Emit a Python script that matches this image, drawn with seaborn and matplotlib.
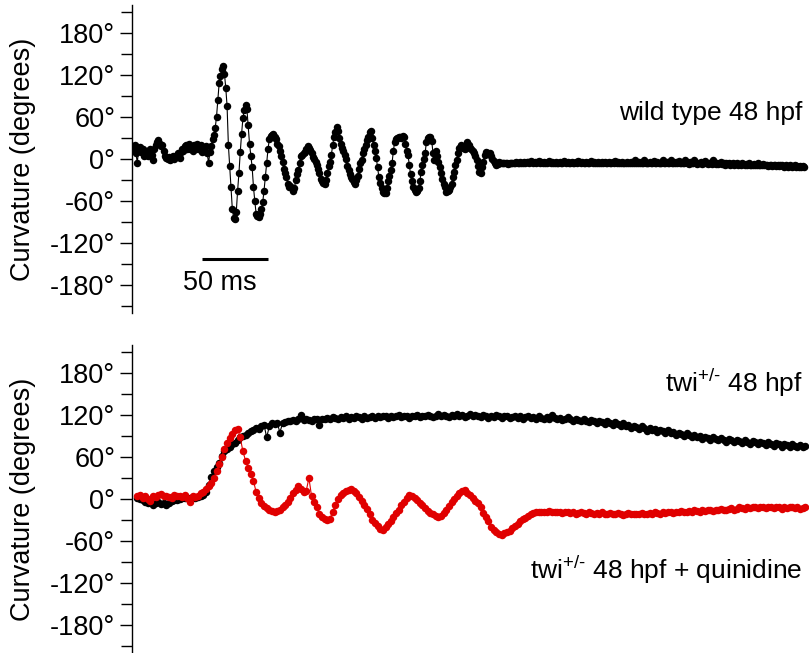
import numpy as np
import pandas as pd
import matplotlib
matplotlib.use("Agg")
import matplotlib.pyplot as plt
import seaborn as sns

# ---------------- data ----------------
# top panel: wild type 48 hpf, 1 ms sampling, t = 0..509 ms
wt_time = np.arange(0, 510, 1)
wt_curv = [
    18, 14, 20, 8, -5, 12, 17, 10, 14, 4,
    8, 12, 5, 10, 15, 6, -1, 14, 20, 24,
    27, 22, 18, 20, 12, 5, 2, 0, 3, -1,
    2, 5, 0, 3, 6, 8, 2, 10, 14, 12,
    18, 20, 15, 22, 14, 18, 12, 20, 16, 22,
    14, 18, 20, 10, 16, 12, 18, 8, -6, 10,
    18, 28, 34, 44, 60, 85, 108, 119, 128, 133,
    122, 102, 76, 20, -10, -40, -72, -84, -86, -75,
    -45, -20, 10, 36, 58, 70, 77, 72, 48, 22,
    5, -12, -40, -60, -78, -82, -83, -78, -72, -62,
    -45, -26, -6, 14, 28, 33, 35, 36, 32, 28,
    22, 18, 12, 5, -4, -14, -20, -25, -35, -40,
    -38, -42, -45, -42, -30, -22, -16, -5, 4, 6,
    9, 10, 14, 18, 16, 13, 8, 3, 0, -4,
    -8, -14, -20, -28, -32, -34, -35, -30, -20, -10,
    -4, 6, 20, 32, 38, 46, 40, 30, 22, 16,
    12, 6, 0, -10, -16, -22, -25, -28, -33, -36,
    -30, -24, -14, -6, -1, 8, 15, 20, 27, 32,
    39, 40, 30, 20, 12, 2, -12, -26, -34, -42,
    -47, -49, -48, -42, -32, -24, -16, -5, 12, 25,
    29, 30, 31, 31, 30, 33, 32, 22, 12, 6,
    -8, -22, -32, -40, -44, -47, -45, -42, -32, -18,
    -8, 0, 8, 25, 30, 31, 32, 26, 8, -2,
    12, 5, -4, -11, -20, -28, -35, -40, -47, -46,
    -44, -40, -35, -26, -18, -8, -1, 8, 16, 20,
    18, 16, 14, 18, 25, 20, 16, 14, 12, 8,
    4, -1, -10, -18, -20, -12, -4, 6, 10, 9,
    8, 8, 5, 0, -3, -6, -9, -7, -4, -5,
    -6, -5, -6, -6, -5, -7, -6, -5, -6, -6,
    -5, -4, -6, -5, -4, -5, -6, -4, -5, -4,
    -4, -5, -3, -4, -5, -4, -6, -4, -3, -5,
    -4, -5, -4, -6, -5, -4, -3, -5, -4, -5,
    -5, -4, -6, -5, -4, -5, -5, -3, -4, -5,
    -4, -5, -5, -4, -6, -5, -4, -5, -3, -4,
    -5, -4, -5, -6, -4, -5, -5, -4, -3, -5,
    -4, -5, -5, -4, -6, -5, -4, -5, -4, -5,
    -5, -4, -6, -5, -4, -5, -3, -5, -4, -6,
    -5, -4, -5, -5, -6, -4, -5, -5, -4, -6,
    -5, -2, -5, -6, -4, -5, -6, -5, -1, -5,
    -6, -5, -4, -6, -5, -3, -6, -5, -4, -6,
    -5, -6, -2, -5, -6, -4, -6, -5, -1, -6,
    -5, -6, -4, -6, -3, -5, -6, -5, -6, -2,
    -6, -5, -7, -4, -6, -5, -1, -6, -7, -5,
    -6, -4, -7, -6, -3, -6, -7, -5, -6, -7,
    -2, -6, -7, -5, -7, -6, -4, -7, -6, -8,
    -6, -7, -5, -8, -7, -6, -8, -7, -5, -8,
    -7, -8, -6, -7, -9, -7, -8, -6, -8, -9,
    -8, -7, -9, -8, -6, -9, -8, -9, -7, -9,
    -8, -9, -10, -8, -9, -10, -8, -9, -10, -9,
    -10, -9, -8, -10, -11, -9, -10, -11, -9, -10,
    -11, -10, -9, -11, -10, -12, -10, -11, -10, -11,
]

# bottom panel: 2 ms sampling, t = 4..510 ms
twi_time = np.arange(4, 512, 2)
twi_curv = [
    2, 0, -2, -4, -6, -3, -8, -5, -4, -7,
    -6, -9, -5, -3, -2, -1, 0, 1, 2, 2,
    1, 3, 2, 3, 4, 6, 10, 20, 32, 40,
    46, 52, 62, 68, 72, 75, 78, 80, 84, 88,
    90, 92, 95, 97, 99, 101, 100, 104, 106, 88,
    104, 108, 107, 109, 95, 108, 110, 112, 111, 113,
    112, 114, 120, 113, 114, 113, 112, 115, 114, 106,
    115, 114, 116, 115, 117, 116, 114, 117, 116, 118,
    115, 117, 116, 118, 117, 115, 118, 116, 117, 119,
    116, 118, 117, 119, 118, 116, 119, 117, 118, 120,
    117, 119, 118, 116, 119, 118, 120, 117, 119, 118,
    120, 118, 117, 119, 121, 118, 120, 119, 117, 120,
    119, 121, 118, 120, 117, 119, 121, 118, 120, 119,
    117, 120, 118, 116, 119, 117, 120, 118, 116, 119,
    118, 116, 117, 119, 116, 118, 115, 117, 119, 116,
    117, 115, 118, 116, 114, 117, 115, 120, 116, 114,
    116, 113, 115, 117, 114, 112, 115, 113, 111, 114,
    112, 110, 113, 111, 108, 112, 110, 107, 111, 109,
    106, 110, 107, 105, 109, 104, 106, 102, 105, 103,
    100, 104, 101, 97, 102, 99, 100, 96, 99, 97,
    95, 98, 94, 96, 92, 95, 93, 90, 94, 91,
    89, 92, 88, 90, 86, 89, 87, 85, 88, 86,
    84, 87, 85, 82, 86, 84, 81, 85, 83, 80,
    84, 82, 79, 83, 81, 78, 82, 80, 77, 81,
    79, 76, 80, 78, 75, 79, 77, 74, 78, 76,
    75, 77, 74, 76,
]
quin_curv = [
    4, 6, 2, 5, 0, -3, 5, 3, 6, 7,
    4, 5, 3, 2, 6, 4, 5, 3, 6, 2,
    -4, 4, 3, 5, 8, 10, 14, 18, 23, 30,
    40, 50, 60, 72, 80, 87, 93, 98, 100, 88,
    68, 55, 45, 36, 26, 10, 2, -5, -10, -13,
    -16, -17, -18, -17, -16, -12, -9, -4, 1, 8,
    13, 18, 14, 10, 12, 30, 4, -4, -11, -22,
    -25, -28, -30, -28, -18, -8, 0, 6, 9, 12,
    13, 14, 12, 8, 3, -3, -9, -14, -22, -30,
    -34, -38, -43, -44, -40, -36, -32, -26, -20, -16,
    -8, -4, 2, 6, 5, 2, -1, -5, -9, -13,
    -17, -20, -22, -24, -25, -24, -20, -16, -10, -4,
    0, 4, 8, 12, 13, 9, 6, 2, -3, -6,
    -12, -20, -25, -32, -40, -44, -47, -50, -51, -48,
    -47, -45, -42, -38, -35, -32, -29, -27, -24, -21,
    -20, -19, -18, -18, -19, -18, -17, -19, -18, -19,
    -18, -20, -19, -18, -20, -19, -21, -20, -19, -20,
    -21, -19, -20, -22, -20, -21, -19, -21, -22, -20,
    -21, -22, -20, -21, -23, -21, -20, -22, -21, -22,
    -21, -20, -22, -21, -20, -21, -19, -20, -21, -19,
    -20, -18, -19, -20, -18, -19, -17, -18, -19, -17,
    -18, -16, -17, -18, -16, -17, -15, -16, -17, -15,
    -16, -14, -15, -16, -14, -13, -15, -14, -12, -13,
    -14, -12, -13, -11, -12, -13, -11, -12, -13, -11,
    -12, -13, -11, -12, -14, -12, -13, -11, -12, -13,
    -12, -14, -13, -12,
]

major_ticks = [-180, -120, -60, 0, 60, 120, 180]
minor_ticks = [-210, -150, -90, -30, 30, 90, 150, 210]
tick_labels = [f"{v}°" for v in major_ticks]

labels_top = "wild type 48 hpf"
label_twi = r"twi$^{+/\text{-}}$ 48 hpf"
label_quin = r"twi$^{+/\text{-}}$ 48 hpf + quinidine"
scalebar_text = "50 ms"
scalebar_ms = [53, 103]

# ---------------- styling ----------------
sns.set_theme(style="ticks")
plt.rcParams["font.family"] = ["Liberation Sans", "DejaVu Sans"]
plt.rcParams["mathtext.fontset"] = "custom"
plt.rcParams["mathtext.rm"] = "Liberation Sans"
plt.rcParams["mathtext.it"] = "Liberation Sans"
plt.rcParams["mathtext.default"] = "regular"

W, H = 811, 653
fig = plt.figure(figsize=(W / 100, H / 100), dpi=100)
left = 132 / W
width = 676 / W
ax1 = fig.add_axes([left, 1 - 313 / H, width, 308 / H])
ax2 = fig.add_axes([left, 0.0, width, 308 / H])

RED = "#E00000"
mk = dict(marker="o", markersize=5.4, markeredgewidth=0, linewidth=0.8,
          estimator=None, sort=False, legend=False)

df_wt = pd.DataFrame({"t": wt_time, "curv": wt_curv})
df_twi = pd.DataFrame({"t": twi_time, "curv": twi_curv})
df_q = pd.DataFrame({"t": twi_time, "curv": quin_curv})

sns.lineplot(data=df_wt, x="t", y="curv", ax=ax1, color="black", **mk)
sns.lineplot(data=df_twi, x="t", y="curv", ax=ax2, color="black", **mk)
sns.lineplot(data=df_q, x="t", y="curv", ax=ax2, color=RED, **mk)

FS = 19.5
for ax in (ax1, ax2):
    ax.set_xlim(0, 512)
    ax.set_ylim(-220, 220)
    ax.set_yticks(major_ticks)
    ax.set_yticklabels(tick_labels)
    ax.set_yticks(minor_ticks, minor=True)
    ax.tick_params(axis="y", which="major", length=9, width=1, pad=3,
                   labelsize=FS, color="black", labelcolor="black", direction="out")
    ax.tick_params(axis="y", which="minor", length=8, width=1, color="black",
                   direction="out")
    ax.tick_params(axis="x", which="both", bottom=False, labelbottom=False)
    for s in ("top", "right", "bottom"):
        ax.spines[s].set_visible(False)
    ax.spines["left"].set_color("black")
    ax.spines["left"].set_linewidth(1)
    ax.set_xlabel("")
    ax.set_ylabel("Curvature (degrees)", fontsize=FS, color="black")
    ax.yaxis.set_label_coords(-0.142, 0.5)
    ax.set_facecolor("white")
    ax.grid(False)

# scale bar
ax1.plot(scalebar_ms, [-143, -143], color="black", linewidth=2.2,
         solid_capstyle="butt")
ax1.text(66.7, -177, scalebar_text, ha="center", va="center", fontsize=FS,
         color="black")

# condition labels
ax1.text(508, 66, labels_top, ha="right", va="center", fontsize=19, color="black")
ax2.text(508, 166, label_twi, ha="right", va="center", fontsize=19, color="black")
ax2.text(508, -101, label_quin, ha="right", va="center", fontsize=19, color="black")

fig.savefig("out.png", dpi=100, facecolor="white")
